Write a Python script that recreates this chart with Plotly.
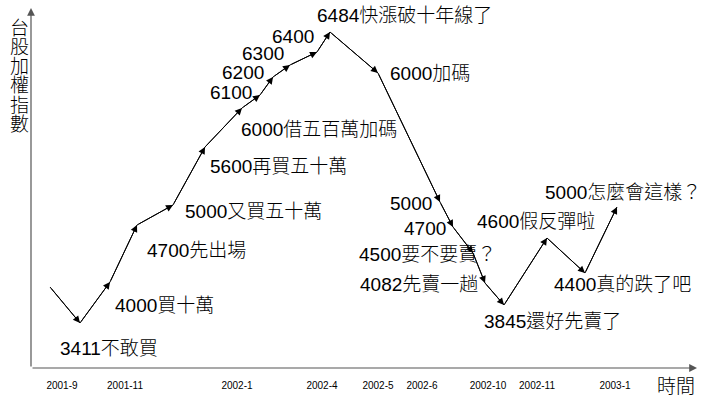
import plotly.graph_objects as go

# ---- data (schematic positions) ----
# path vertices: horizontal position (time axis units) and vertical level units
path_x = [19, 49, 79, 106, 142, 174, 211, 229, 242, 259, 286, 299, 347, 409, 422, 442, 454, 473, 516, 554, 586]
path_y = [81, 45, 86, 143, 163, 221, 260, 273, 291, 303, 316, 336, 295, 166, 141, 115, 85, 63, 130, 95, 161]

# text labels on the chart
labels = ["3411不敢買", "4000買十萬", "4700先出場", "5000又買五十萬", "5600再買五十萬",
          "6000借五百萬加碼", "6100", "6200", "6300", "6400", "6484快漲破十年線了",
          "6000加碼", "5000", "4700", "4500要不要賣？", "4082先賣一趟", "3845還好先賣了",
          "4600假反彈啦", "5000怎麼會這樣？", "4400真的跌了吧"]
label_x = [27, 82, 114, 152, 177, 208, 177, 189, 209, 239, 284, 357, 357, 371, 326, 327, 451, 444, 512, 521]
label_y = [20, 63, 118, 157, 202, 239, 276, 296, 315, 332, 353, 295, 165, 140, 114, 84, 47, 147, 176, 84]

# time axis tick labels
tick_vals = [31, 94, 206, 291, 347, 391, 457, 506, 584]
tick_text = ["2001-9", "2001-11", "2002-1", "2002-4", "2002-5", "2002-6", "2002-10", "2002-11", "2003-1"]

y_title = "台股加權指數"
x_title = "時間"

X_MAX, Y_MAX = 666, 360
FONT = "Liberation Sans, Arial, Noto Sans CJK TC"

fig = go.Figure()
fig.add_trace(go.Scatter(x=path_x, y=path_y, mode="lines",
                         line=dict(color="black", width=1), hoverinfo="skip",
                         showlegend=False))

ann = []
# arrowheads along the path
for i in range(1, len(path_x)):
    ann.append(dict(x=path_x[i], y=path_y[i], ax=path_x[i - 1], ay=path_y[i - 1],
                    xref="x", yref="y", axref="x", ayref="y", text="",
                    showarrow=True, arrowhead=2, arrowsize=1.4, arrowwidth=1,
                    arrowcolor="black", standoff=0, startstandoff=0))

# axes with arrows
ann.append(dict(x=0, y=Y_MAX, ax=0, ay=0, xref="x", yref="y", axref="x", ayref="y",
                text="", showarrow=True, arrowhead=2, arrowsize=1.3, arrowwidth=1.2,
                arrowcolor="#555555", standoff=0))
ann.append(dict(x=X_MAX, y=0, ax=0, ay=0, xref="x", yref="y", axref="x", ayref="y",
                text="", showarrow=True, arrowhead=2, arrowsize=1.3, arrowwidth=1.2,
                arrowcolor="#555555", standoff=0))

# labels
for t, lx, ly in zip(labels, label_x, label_y):
    ann.append(dict(x=lx, y=ly, xref="x", yref="y", text=t, showarrow=False,
                    xanchor="left", yanchor="middle",
                    font=dict(family=FONT, size=19, color="black", weight=300)))

# vertical y-axis title, one character per line (paper coords, left of the axis)
for k, ch in enumerate(y_title):
    ann.append(dict(x=-12 / X_MAX, y=(340 - k * 19.3) / Y_MAX, xref="paper", yref="paper",
                    text=ch, showarrow=False, xanchor="center", yanchor="middle",
                    font=dict(family=FONT, size=19, color="black", weight=300)))

ann.append(dict(x=645 / X_MAX, y=-18 / Y_MAX, xref="paper", yref="paper", text=x_title,
                showarrow=False, xanchor="center", yanchor="middle",
                font=dict(family=FONT, size=19, color="black", weight=300)))

fig.update_layout(
    width=720, height=400,
    margin=dict(l=31, r=23, t=8, b=32),
    paper_bgcolor="white", plot_bgcolor="white",
    annotations=ann,
    xaxis=dict(range=[0, X_MAX], showgrid=False, zeroline=False, showline=False,
               tickvals=tick_vals, ticktext=tick_text, ticks="",
               tickfont=dict(family="Liberation Sans, Arial", size=10, color="black"),
               ticklabelstandoff=10, fixedrange=True),
    yaxis=dict(range=[0, Y_MAX], showgrid=False, zeroline=False, showline=False,
               showticklabels=False, ticks="", fixedrange=True),
)

fig.write_html("out.html", config={"displayModeBar": False},
               post_script="document.body.style.margin='0';document.body.style.overflow='hidden';")
